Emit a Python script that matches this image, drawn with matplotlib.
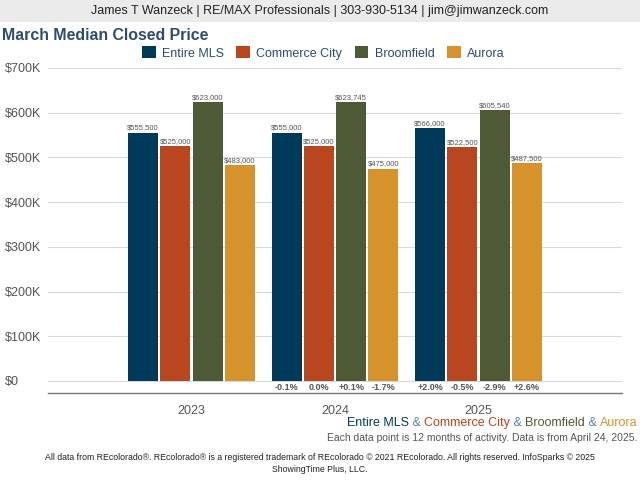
import matplotlib
matplotlib.use("Agg")
import matplotlib.pyplot as plt
import numpy as np

plt.rcParams['font.family'] = ['Liberation Sans', 'DejaVu Sans']

years = ["2023", "2024", "2025"]
series = ["Entire MLS", "Commerce City", "Broomfield", "Aurora"]
values = {
    "Entire MLS": [555500, 555000, 566000],
    "Commerce City": [525000, 525000, 522500],
    "Broomfield": [623000, 623745, 605540],
    "Aurora": [483000, 475000, 487500],
}
changes = {
    "Entire MLS": ["", "-0.1%", "+2.0%"],
    "Commerce City": ["", "0.0%", "-0.5%"],
    "Broomfield": ["", "+0.1%", "-2.9%"],
    "Aurora": ["", "-1.7%", "+2.6%"],
}
colors = ["#003A5A", "#B8461E", "#4E5A35", "#D6922B"]
yticks = [0, 100000, 200000, 300000, 400000, 500000, 600000, 700000]
ytick_labels = ["$0", "$100K", "$200K", "$300K", "$400K", "$500K", "$600K", "$700K"]

fig = plt.figure(figsize=(6.4, 4.8), dpi=100)
fig.patch.set_facecolor("white")

# header band
fig.patches.append(plt.Rectangle((0, 1 - 22/480), 1, 22/480, transform=fig.transFigure,
                                 facecolor="#EBEBEB", edgecolor="none"))
fig.text(0.5, 1 - 11/480, "James T Wanzeck | RE/MAX Professionals | 303-930-5134 | jim@jimwanzeck.com",
         ha="center", va="center", fontsize=9, color="#222222")
fig.text(2/640, 1 - 35/480, "March Median Closed Price", ha="left", va="center",
         fontsize=11.4, fontweight="bold", color="#2F4B6E")

ax = fig.add_axes([48/640, 1 - 393/480, 574/640, (393 - 68)/480])
x = np.arange(len(years))
w = 0.209
stride = 0.225
for i, (s, c) in enumerate(zip(series, colors)):
    off = (i - 1.5) * stride
    bars = ax.bar(x + off, values[s], width=w, color=c, label=s, zorder=3)
    for xi, v, ch in zip(x + off, values[s], changes[s]):
        ax.text(xi, v + 3000, f"${v:,}", ha="center", va="bottom", fontsize=5.5, color="#555555")
        if ch:
            ax.text(xi, -4000, ch, ha="center", va="top", fontsize=6.5, fontweight="bold", color="#555555")

ax.set_xlim(-1, 3)
ax.set_ylim(-27000, 700000)
ax.set_yticks(yticks)
ax.set_yticklabels(ytick_labels, fontsize=9, color="#555555")
ax.set_xticks(x)
ax.set_xticklabels(years, fontsize=9, color="#555555")
ax.tick_params(axis="both", length=0)
ax.tick_params(axis="x", pad=9)
ax.grid(axis="y", color="#D9D9D9", linewidth=0.8, zorder=0)
for sp in ["top", "right", "left"]:
    ax.spines[sp].set_visible(False)
ax.spines["bottom"].set_color("#777777")
ax.spines["bottom"].set_linewidth(1)
for lbl in ax.get_yticklabels():
    lbl.set_horizontalalignment("left")
ax.tick_params(axis="y", pad=31)

leg = fig.legend(loc="center", bbox_to_anchor=(0.505, 1 - 53/480), ncol=4, frameon=False,
                 fontsize=9, handlelength=1.1, handleheight=1.1, columnspacing=1.0, handletextpad=0.5)
for t in leg.get_texts():
    t.set_color("#2F4B6E")

# colored series line
parts = [("Entire MLS", colors[0]), (" & ", "#5A7FA8"), ("Commerce City", colors[1]), (" & ", "#5A7FA8"),
         ("Broomfield", colors[2]), (" & ", "#5A7FA8"), ("Aurora", colors[3])]
fig.canvas.draw()
renderer = fig.canvas.get_renderer()
xpos = 638
for txt, col in reversed(parts):
    t = fig.text(xpos/640, 1 - 423/480, txt, ha="right", va="center", fontsize=9, color=col)
    bb = t.get_window_extent(renderer=renderer)
    xpos -= bb.width

fig.text(637/640, 1 - 438/480, "Each data point is 12 months of activity. Data is from April 24, 2025.",
         ha="right", va="center", fontsize=7.5, color="#555555")
fig.text(0.5, 1 - 457/480,
         "All data from REcolorado®. REcolorado® is a registered trademark of REcolorado © 2021 REcolorado. All rights reserved. InfoSparks © 2025",
         ha="center", va="center", fontsize=6.3, color="#222222")
fig.text(0.5, 1 - 469/480, "ShowingTime Plus, LLC.", ha="center", va="center", fontsize=6.3, color="#222222")

fig.savefig("out.png", dpi=100)
